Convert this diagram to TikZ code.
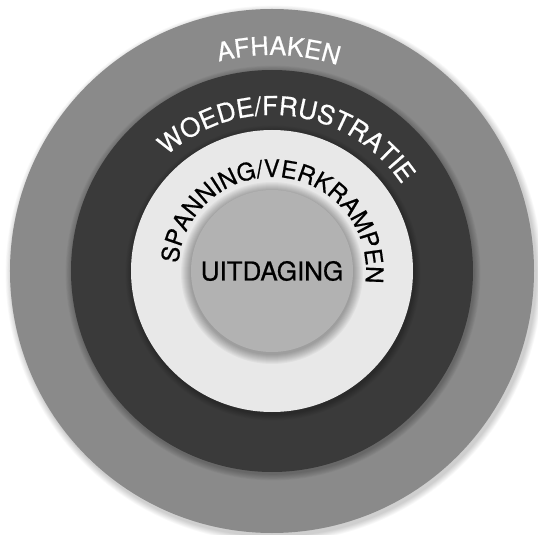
\documentclass[tikz,border=0pt]{standalone}
\usepackage{fontspec}
\setmainfont{TeX Gyre Heros}
\newfontfamily\ringfont[FakeBold=0.6]{TeX Gyre Heros}
\usetikzlibrary{decorations.text}
\definecolor{outergrey}{RGB}{138,138,138}
\definecolor{darkring}{RGB}{58,58,58}
\definecolor{lightring}{RGB}{232,232,232}
\definecolor{innergrey}{RGB}{178,178,178}
\begin{document}
\begin{tikzpicture}[x=1pt,y=1pt,
  ringlabel/.style n args={3}{decorate, decoration={text along path, text align=center, text color=#1,
     text={|\ringfont\fontsize{#2}{#2}\selectfont|#3}}}]
\useasboundingbox (-272,-264) rectangle (266,271);
\fill[white] (-272,-264) rectangle (266,271);
% soft shadows
\foreach \i in {1,...,8}{\fill[black,opacity=0.025] (2,-3) circle ({262+\i*0.8});}
\fill[outergrey] (0,0) circle (262);
\foreach \i in {1,...,8}{\fill[black,opacity=0.03] (1,-2) circle ({201+\i*0.8});}
\fill[darkring] (0,0) circle (201);
\foreach \i in {1,...,8}{\fill[black,opacity=0.03] (1,-2) circle ({141+\i*0.8});}
\fill[lightring] (0,0) circle (141);
\foreach \i in {1,...,10}{\fill[black,opacity=0.035] (0,-2) circle ({81+\i*1.0});}
\fill[innergrey] (0,0) circle (81);
% ring labels
\path[ringlabel={white}{25.5}{AFHAKEN}] (148.3:216) arc[start angle=148.3, end angle=28.3, radius=216];
\path[ringlabel={white}{26}{WOEDE/FRUSTRATIE}] (173:156) arc[start angle=173, end angle=-7, radius=156];
\path[ringlabel={black}{24}{SPANNING/VERKRAMPEN}] (200:94) arc[start angle=200, end angle=-32, radius=94];
\node[font=\ringfont\fontsize{26}{26}\selectfont, text=black] (uit) at (0,0) {UITDAGING};
\end{tikzpicture}
\end{document}
